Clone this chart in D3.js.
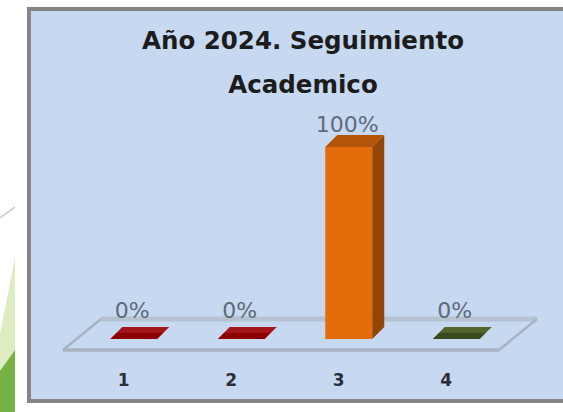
<!DOCTYPE html>
<html><head><meta charset="utf-8">
<script src="https://cdn.jsdelivr.net/npm/d3@7"></script>
<style>html,body{margin:0;padding:0;background:#fff;}svg{display:block;}</style>
</head><body>
<script>
// ---- data ----
const titleLines = ["Año 2024. Seguimiento", "Academico"];
const categories = ["1", "2", "3", "4"];
const values = [0, 0, 100, 0];
const valueLabels = ["0%", "0%", "100%", "0%"];

// ---- styles ----
const frontColors = ["#900000", "#900000", "#e46c0a", "#3b4a1c"];
const topLight    = ["#a3171c", "#a3171c", "#b4530a", "#53652b"];
const topDark     = ["#8e0000", "#8e0000", "#b4530a", "#3b4a1c"];
const sideColors  = ["#6e0000", "#6e0000", "#924507", "#2e3a16"];

const W = 563, H = 412;
const svg = d3.select("body").append("svg").attr("width", W).attr("height", H);
const defs = svg.append("defs");
categories.forEach((c, i) => {
  const g = defs.append("linearGradient").attr("id", "top" + i)
    .attr("x1", 0).attr("y1", 0).attr("x2", 0).attr("y2", 1);
  g.append("stop").attr("offset", "0%").attr("stop-color", topLight[i]);
  g.append("stop").attr("offset", "45%").attr("stop-color", topLight[i]);
  g.append("stop").attr("offset", "50%").attr("stop-color", topDark[i]);
  g.append("stop").attr("offset", "100%").attr("stop-color", topDark[i]);
});

svg.append("rect").attr("width", W).attr("height", H).attr("fill", "#ffffff");

// slide decoration on the left
svg.append("line").attr("x1", 0).attr("y1", 218).attr("x2", 15).attr("y2", 207)
  .attr("stroke", "#d4d4d4").attr("stroke-width", 2);
svg.append("polygon").attr("points", "15,257 15,412 0,412 0,334").attr("fill", "#deecc2");
svg.append("polygon").attr("points", "15,350 15,412 0,412 0,371").attr("fill", "#77b244");

// chart frame
svg.append("rect").attr("x", 29).attr("y", 9).attr("width", 560).attr("height", 392)
  .attr("fill", "#c6d9f0").attr("stroke", "#858585").attr("stroke-width", 4);

// title
const title = svg.append("text").attr("text-anchor", "middle")
  .attr("font-family", "DejaVu Sans").attr("font-weight", "bold")
  .attr("font-size", 24.5).attr("fill", "#1c1c1c");
title.selectAll("tspan").data(titleLines).join("tspan")
  .attr("x", 303).attr("y", (d, i) => 49 + i * 44).text(d => d);

// scales
const x = d3.scaleBand().domain(categories).range([80, 510]).paddingInner(0.563).paddingOuter(0.2815);
const xCat = d3.scaleBand().domain(categories).range([70, 500]);
const y = d3.scaleLinear().domain([0, 100]).range([339, 147]);
const dx = 12, dy = 12;

// floor
const fy = y(0) + 11, fl = x.range()[0] - 17, fr = x.range()[1] - 11, fdx = 38, fdy = 31;
const floor = svg.append("g").attr("fill", "none");
floor.append("line").attr("x1", fl + fdx).attr("y1", fy - fdy).attr("x2", fr + fdx).attr("y2", fy - fdy)
  .attr("stroke", "#b6c1d2").attr("stroke-width", 5);
floor.append("line").attr("x1", fl).attr("y1", fy).attr("x2", fr).attr("y2", fy)
  .attr("stroke", "#aab3c3").attr("stroke-width", 3.5);
floor.append("line").attr("x1", fl).attr("y1", fy).attr("x2", fl + fdx).attr("y2", fy - fdy)
  .attr("stroke", "#a9b2c2").attr("stroke-width", 2.5);
floor.append("line").attr("x1", fr).attr("y1", fy).attr("x2", fr + fdx).attr("y2", fy - fdy)
  .attr("stroke", "#a9b2c2").attr("stroke-width", 2.5);

// bars
const data = categories.map((c, i) => ({ c, v: values[i], label: valueLabels[i], i }));
const bars = svg.append("g").selectAll("g").data(data).join("g");
bars.append("rect")
  .attr("x", d => x(d.c)).attr("y", d => y(d.v))
  .attr("width", x.bandwidth()).attr("height", d => y(0) - y(d.v))
  .attr("fill", d => frontColors[d.i]);
bars.append("polygon")
  .attr("points", d => {
    const x0 = x(d.c), x1 = x0 + x.bandwidth(), yt = y(d.v);
    return [[x1, yt], [x1 + dx, yt - dy], [x1 + dx, y(0) - dy], [x1, y(0)]].map(p => p.join(",")).join(" ");
  })
  .attr("fill", d => sideColors[d.i]);
bars.append("polygon")
  .attr("points", d => {
    const x0 = x(d.c), x1 = x0 + x.bandwidth(), yt = y(d.v);
    return [[x0, yt], [x1, yt], [x1 + dx, yt - dy], [x0 + dx, yt - dy]].map(p => p.join(",")).join(" ");
  })
  .attr("fill", d => "url(#top" + d.i + ")");

// value labels
svg.append("g").selectAll("text").data(data).join("text")
  .attr("x", d => x(d.c) + x.bandwidth() / 2 - 1.5)
  .attr("y", d => y(d.v) - 21 + 6 * d.v / 100)
  .attr("text-anchor", "middle")
  .attr("font-family", "DejaVu Sans").attr("font-size", 22)
  .attr("fill", "#5f6a78")
  .text(d => d.label);

// category axis
const axis = svg.append("g").attr("transform", "translate(0,372)")
  .call(d3.axisBottom(xCat).tickSize(0).tickPadding(0));
axis.select(".domain").remove();
axis.selectAll("text")
  .attr("font-family", "DejaVu Sans").attr("font-size", 17).attr("font-weight", "bold")
  .attr("fill", "#2a2f38")
  .attr("y", 14).attr("dy", 0);
</script>
</body></html>
